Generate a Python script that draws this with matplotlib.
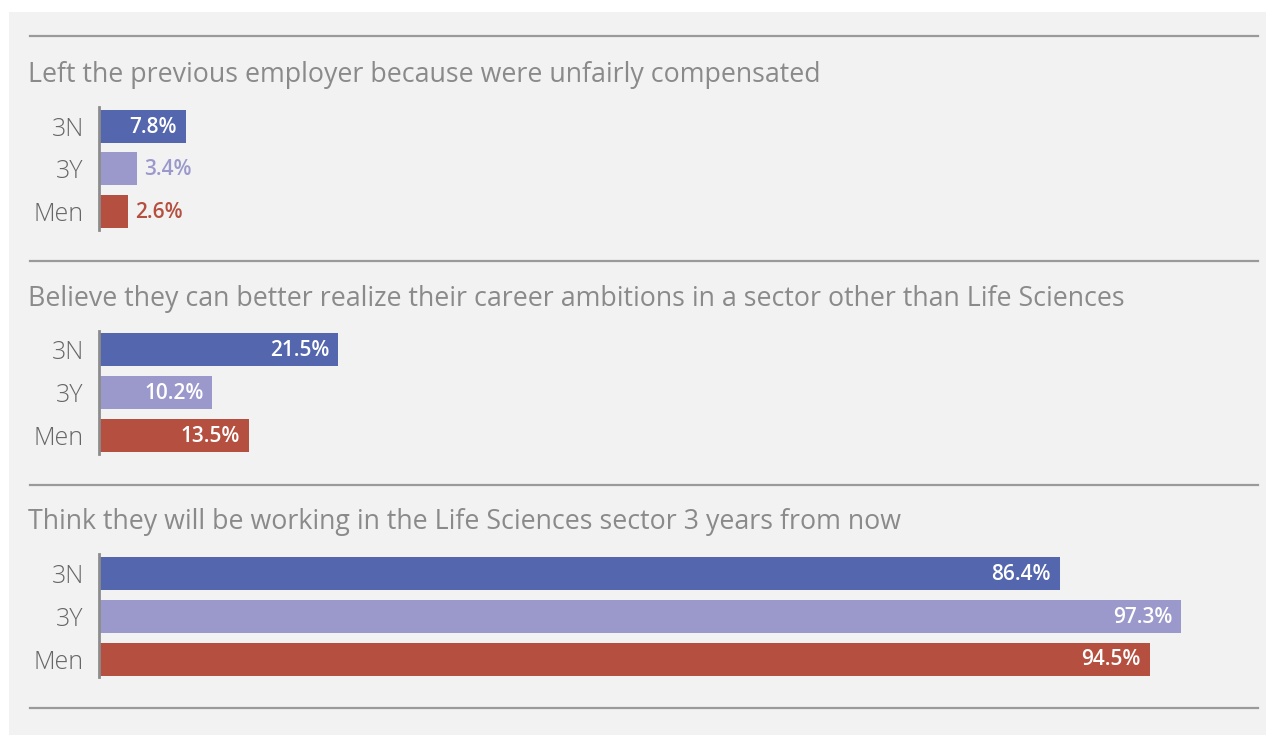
import matplotlib
matplotlib.use("Agg")
import matplotlib.pyplot as plt
from matplotlib.patches import Rectangle
from matplotlib.lines import Line2D

titles = [
    "Left the previous employer because were unfairly compensated",
    "Believe they can better realize their career ambitions in a sector other than Life Sciences",
    "Think they will be working in the Life Sciences sector 3 years from now",
]
categories = ["3N", "3Y", "Men"]
values = [
    [7.8, 3.4, 2.6],
    [21.5, 10.2, 13.5],
    [86.4, 97.3, 94.5],
]
colors = ["#5366ae", "#9b99cc", "#b55040"]

W, H = 1266, 735
fig = plt.figure(figsize=(W / 100, H / 100), dpi=100)
fig.patch.set_facecolor("white")
fig.patches.append(Rectangle((9 / W, 0), (W - 9) / W, (H - 12) / H,
                             transform=fig.transFigure, facecolor="#f2f2f2",
                             edgecolor="none", zorder=-10))

FONT = "Open Sans"
VFONT = "Open Sans"
line_ys = [36, 261, 485, 708]
for ly in line_ys:
    fig.add_artist(Line2D([30 / W, 1258 / W], [1 - ly / H, 1 - ly / H],
                          transform=fig.transFigure, color="#9a9a9a", lw=1.6))

group_off = 223.7
px_per_unit = 42.7
for g in range(3):
    top = 107 + g * group_off
    bottom = 230 + g * group_off
    ax = fig.add_axes([99 / W, 1 - bottom / H, 1112 / W, (bottom - top) / H])
    ax.set_facecolor("none")
    ax.set_xlim(0, 100)
    span = (bottom - top) / px_per_unit
    ax.set_ylim(-0.45 + span, -0.45)
    ax.barh(range(3), values[g], height=33 / px_per_unit, color=colors, left=0)
    for s in ["top", "right", "bottom"]:
        ax.spines[s].set_visible(False)
    ax.spines["left"].set_color("#8c8c8c")
    ax.spines["left"].set_linewidth(2)
    ax.set_xticks([])
    ax.set_yticks(range(3))
    ax.set_yticklabels(categories, fontfamily=FONT, fontsize=18, color="#666666",
                       fontweight="light")
    ax.tick_params(axis="y", length=0, pad=11)
    for i, v in enumerate(values[g]):
        if v >= 5:
            ax.text(v - 0.8, i + 0.02, f"{v}%", ha="right", va="center", color="white",
                    fontweight="semibold", fontstretch="normal", fontfamily=VFONT, fontsize=15)
        else:
            ax.text(v + 0.65, i + 0.02, f"{v}%", ha="left", va="center", color=colors[i],
                    fontweight="semibold", fontstretch="normal", fontfamily=VFONT, fontsize=15)
    ty = 75 + g * group_off
    fig.text(28 / W, 1 - ty / H, titles[g], ha="left", va="center",
             fontfamily=FONT, fontsize=19.25, color="#8a8a8a")

fig.savefig("out.png", dpi=100)
